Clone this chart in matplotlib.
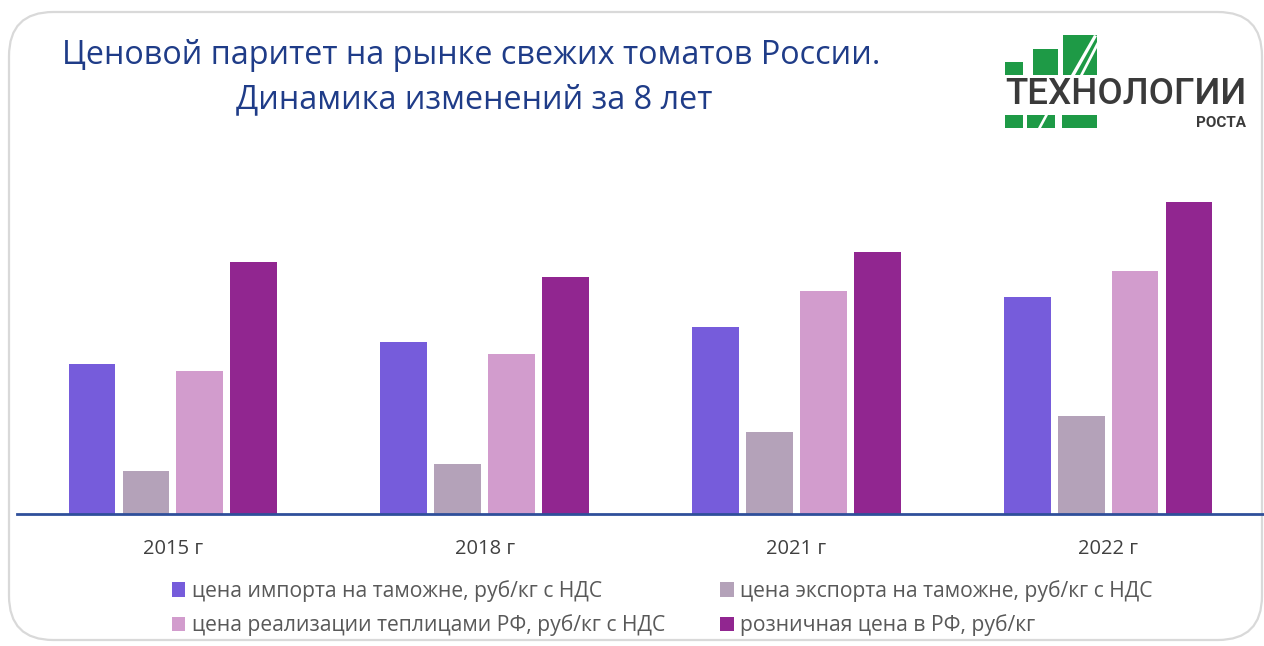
import numpy as np
import matplotlib.pyplot as plt
from matplotlib.patches import FancyBboxPatch, Rectangle, Polygon

plt.rcParams['font.family'] = ['Open Sans', 'DejaVu Sans']

years = ['2015 г', '2018 г', '2021 г', '2022 г']
series = [
    'цена импорта на таможне, руб/кг с НДС',
    'цена экспорта на таможне, руб/кг с НДС',
    'цена реализации теплицами РФ, руб/кг с НДС',
    'розничная цена в РФ, руб/кг',
]
import_price = [90, 103, 112, 130]
export_price = [26, 30, 49, 59]
greenhouse_price = [86, 96, 134, 146]
retail_price = [151, 142, 157, 187]
colors = ['#765CDB', '#B4A2B9', '#D29CCD', '#912690']

fig = plt.figure(figsize=(12.64, 6.46), dpi=100)
W, H = 1264, 646

def fx(px):
    return px / W

def fy(py):
    return 1 - py / H

# rounded card behind everything
card = FancyBboxPatch((fx(9), fy(640)), fx(1253), fy(12) - fy(640),
                      boxstyle='round,pad=0,rounding_size=0.035',
                      transform=fig.transFigure, facecolor='white',
                      edgecolor='#D9D9D9', linewidth=1.6, mutation_aspect=W / H,
                      zorder=-10)
fig.patches.append(card)

ax = fig.add_axes([fx(17), fy(514), 1 - fx(17), fy(150) - fy(514)])
ax.set_zorder(2)
x = np.arange(len(years))
width = 0.15
step = 0.173
values = [import_price, export_price, greenhouse_price, retail_price]
for i, (vals, name, c) in enumerate(zip(values, series, colors)):
    ax.bar(x + (i - 1.5) * step, vals, width, color=c, label=name)

ax.set_xlim(-0.5, 3.5)
ax.set_ylim(0, 218.4)
ax.set_xticks(x)
ax.set_xticklabels(years, fontsize=14.5, color='#404040')
ax.tick_params(axis='x', length=0, pad=18)
ax.set_yticks([])
for s in ['top', 'right', 'left']:
    ax.spines[s].set_visible(False)
ax.spines['bottom'].set_color('#2F4F9A')
ax.spines['bottom'].set_linewidth(2)
ax.patch.set_alpha(0)

handles, labels = ax.get_legend_handles_labels()
order = [0, 2, 1, 3]
fig.legend([handles[k] for k in order], [labels[k] for k in order],
           ncol=2, loc='center', bbox_to_anchor=(fx(662), fy(608)),
           frameon=False, fontsize=15.2, labelcolor='#595959',
           handlelength=0.65, handleheight=0.65, handletextpad=0.3,
           columnspacing=2.6, labelspacing=0.58)

# title
fig.text(fx(471), fy(56), 'Ценовой паритет на рынке свежих томатов России.',
         ha='center', va='center', fontsize=23.3, color='#1F3C88')
fig.text(fx(474), fy(100), 'Динамика изменений за 8 лет',
         ha='center', va='center', fontsize=23.3, color='#1F3C88')

# logo
green = '#1E9A46'
for x0, y0, x1, y1 in [(1005, 62, 1023, 75), (1033, 49, 1058, 75), (1063, 35, 1097, 75),
                       (1005, 115, 1023, 128), (1027, 115, 1055, 128), (1062, 115, 1097, 128)]:
    fig.patches.append(Rectangle((fx(x0), fy(y1)), fx(x1 - x0), fy(y0) - fy(y1),
                                 transform=fig.transFigure, facecolor=green, edgecolor='none'))
for pts in [[(1071, 75), (1075, 75), (1097, 36), (1094, 35)],
            [(1080, 75), (1083, 75), (1097, 48), (1097, 42)],
            [(1038, 128), (1041, 128), (1048, 115), (1045, 115)]]:
    fig.patches.append(Polygon([(fx(a), fy(b)) for a, b in pts], closed=True,
                               transform=fig.transFigure, facecolor='white', edgecolor='none'))
fig.text(fx(1126), fy(95), 'ТЕХНОЛОГИИ', ha='center', va='center', fontsize=26.5,
         color='#3A3A3A', fontweight='medium', fontfamily='Roboto')
fig.text(fx(1246), fy(123), 'РОСТА', ha='right', va='center', fontsize=11,
         color='#3A3A3A', fontweight='bold', fontfamily='Roboto')

fig.savefig('out.png', dpi=100, facecolor='white')
